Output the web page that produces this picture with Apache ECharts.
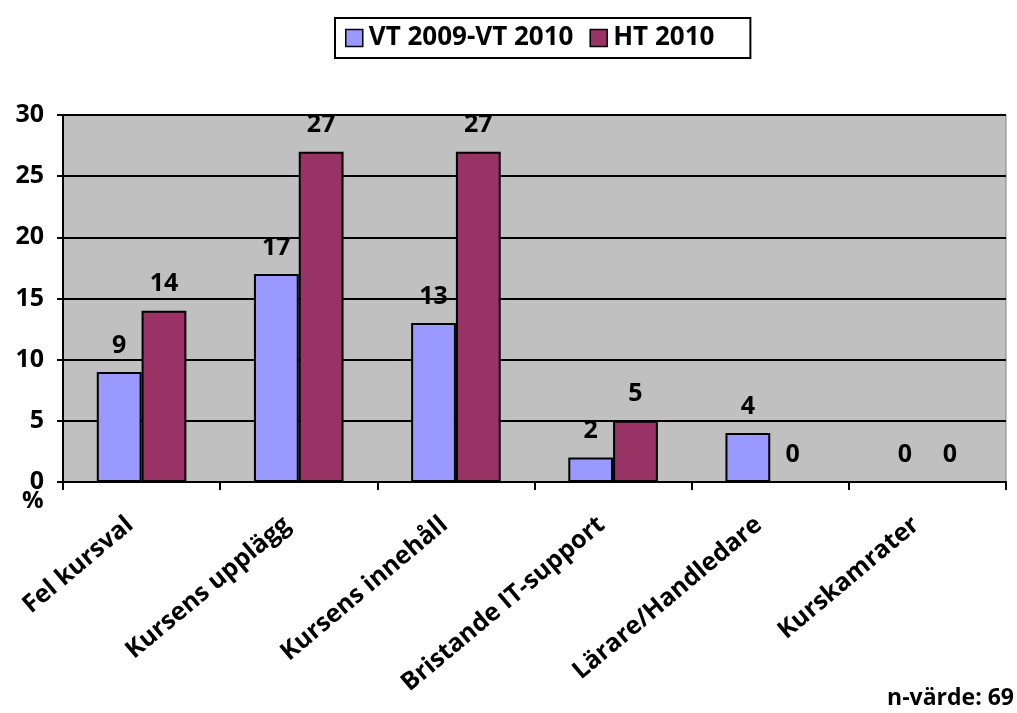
<!DOCTYPE html>
<html>
<head>
<meta charset="utf-8">
<script src="https://cdn.jsdelivr.net/npm/echarts@6/dist/echarts.min.js"></script>
<style>
  html, body { margin: 0; padding: 0; background: #fff; }
  #chart { width: 1017px; height: 713px; }
</style>
</head>
<body>
<div id="chart"></div>
<script>
// data
const categories = ["Fel kursval", "Kursens upplägg", "Kursens innehåll", "Bristande IT-support", "Lärare/Handledare", "Kurskamrater"];
const vt2009 = [9, 17, 13, 2, 4, 0];
const ht2010 = [14, 27, 27, 5, 0, 0];
const yTicks = [0, 5, 10, 15, 20, 25, 30];

const font = "'Open Sans', sans-serif";

const chart = echarts.init(document.getElementById("chart"));

const labelOpt = {
  show: true,
  position: "top",
  distance: 14,
  color: "#000",
  fontWeight: "bold",
  fontSize: 25,
  fontFamily: font
};

chart.setOption({
  animation: false,
  legend: {
    top: 18,
    left: 335,
    itemWidth: 17,
    itemHeight: 17,
    itemGap: 16,
    padding: [7, 36, 7, 10],
    borderColor: "#000",
    borderWidth: 2,
    icon: "rect",
    textStyle: { fontSize: 26, fontWeight: "bold", color: "#000", fontFamily: font, padding: [0, 0, 0, 1] },
    data: [
      { name: "VT 2009-VT 2010", itemStyle: { borderColor: "#000", borderWidth: 1.5 } },
      { name: "HT 2010", itemStyle: { borderColor: "#000", borderWidth: 1.5 } }
    ]
  },
  grid: {
    left: 63, right: 11, top: 115, bottom: 231,
    show: true,
    backgroundColor: "#C0C0C0",
    borderColor: "#808080",
    borderWidth: 1
  },
  xAxis: {
    type: "category",
    data: categories,
    axisLine: { lineStyle: { color: "#000", width: 2 } },
    axisTick: { show: true, length: 8, lineStyle: { color: "#000", width: 2 } },
    axisLabel: {
      rotate: 40,
      margin: 30,
      padding: [0, 15, 0, 0],
      fontSize: 25,
      fontWeight: "bold",
      color: "#000",
      fontFamily: font,
      interval: 0
    }
  },
  yAxis: {
    type: "value",
    min: yTicks[0],
    max: yTicks[yTicks.length - 1],
    interval: 5,
    axisLine: { show: true, lineStyle: { color: "#000", width: 2 } },
    axisTick: { show: true, length: 6, lineStyle: { color: "#000", width: 2 } },
    axisLabel: { fontSize: 25, fontWeight: "bold", color: "#000", fontFamily: font, margin: 19 },
    splitLine: { lineStyle: { color: "#000", width: 2 } }
  },
  series: [
    {
      name: "VT 2009-VT 2010",
      type: "bar",
      data: vt2009,
      barGap: "0%",
      barCategoryGap: "43%",
      itemStyle: { color: "#9999FF", borderColor: "#000", borderWidth: 2 },
      label: labelOpt
    },
    {
      name: "HT 2010",
      type: "bar",
      data: ht2010,
      itemStyle: { color: "#993366", borderColor: "#000", borderWidth: 2 },
      label: labelOpt
    }
  ],
  graphic: [
    {
      type: "text", left: 22, top: 489,
      style: { text: "%", fontSize: 24, fontWeight: "bold", fill: "#000", fontFamily: font }
    },
    {
      type: "text", right: 3, top: 687,
      style: { text: "n-värde: 69", fontSize: 23, fontWeight: "bold", fill: "#000", fontFamily: font }
    }
  ]
});
</script>
</body>
</html>
